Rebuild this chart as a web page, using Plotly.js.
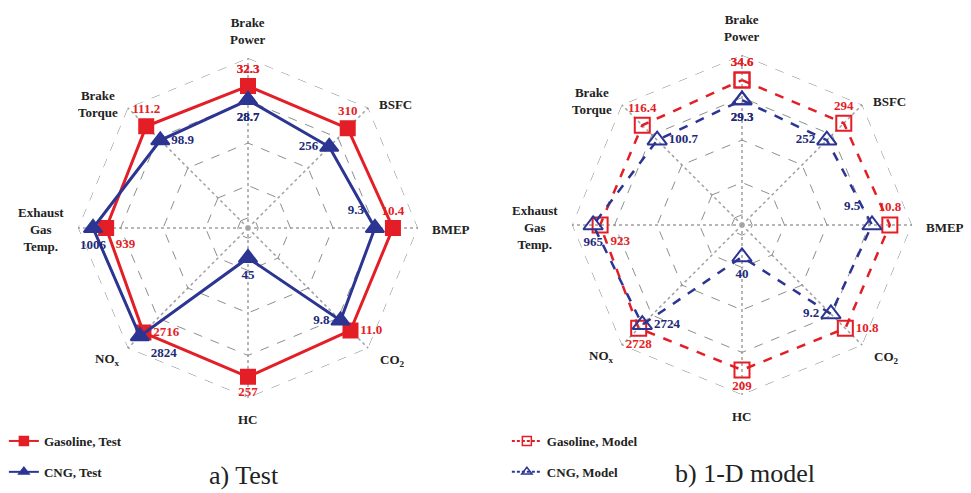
<!DOCTYPE html>
<html><head><meta charset="utf-8">
<script src="https://cdn.plot.ly/plotly-3.0.1.min.js"></script>
<style>body{margin:0;background:#fff}#c{width:971px;height:493px}</style>
</head><body><div id="c"></div>
<script>
// ---- data ----
const categories = ['Brake Power','BSFC','BMEP','CO2','HC','NOx','Exhaust Gas Temp.','Brake Torque'];
const categoryLabels = ['Brake<br>Power','BSFC','BMEP','CO<sub>2</sub>','HC','NO<sub>x</sub>','Exhaust<br>Gas<br>Temp.','Brake<br>Torque'];
const gasTestR   = [0.835,0.83,0.853,0.853,0.876,0.87,0.835,0.847];
const gasTestLbl = ['32.3','310','10.4','11.0','257','2716','939','111.2'];
const cngTestR   = [0.753,0.676,0.747,0.77,0.176,0.90,0.912,0.73];
const cngTestLbl = ['28.7','256','9.3','9.8','45','2824','1006','98.9'];
const gasModR    = [0.853,0.847,0.87,0.86,0.853,0.86,0.835,0.83];
const gasModLbl  = ['34.6','294','10.8','10.8','209','2728','923','116.4'];
const cngModR    = [0.735,0.706,0.765,0.74,0.188,0.83,0.876,0.706];
const cngModLbl  = ['29.3','252','9.5','9.2','40','2724','965','100.7'];
const seriesNames = ['Gasoline, Test','CNG, Test','Gasoline, Model','CNG, Model'];
const panelTitles = ['a) Test','b) 1-D model'];
const gridVals = [0.06,0.25,0.5,0.75];
const frameR = [1,1,1,1,1,1,1,1];   // outer grid octagon (axis maximum)

// ---- styles ----
const RED='#e41e26', BLUE='#2c3592', NAVY='#1e2a78', GRID='#8a9090';
const SERIF='Liberation Serif, Times New Roman, serif';
const posGasTest=['top center','top center','top center','middle right','bottom center','middle right','bottom right','top center'];
const posCngTest=['bottom center','middle left','top left','middle left','bottom center','bottom right','bottom center','middle right'];
const posGasMod =['top center','top center','top center','middle right','bottom center','bottom center','bottom right','top center'];
const posCngMod =['bottom center','middle left','top left','middle left','bottom center','middle right','bottom center','middle right'];
// label offsets from each panel's centre (px)
const lblOff=[[0,-197],[147,-124],[203,2],[144,132],[0,191],[-141,131],[-207,2],[-150,-124]];
const centres=[[248,228],[742,225]];
const R=170;

const close = a => a.concat([a[0]]);
function tr(r,lbl,name,sub,color,tcolor,sym,dash,pos,msize){
  return {type:'scatterpolar', subplot:sub, name:name, showlegend:false,
    r:close(r), theta:close(categories), text:close(lbl), mode:'lines+markers+text',
    textposition:close(pos), textfont:{family:SERIF,size:13,color:tcolor,weight:'bold'},
    line:{color:color,width:dash==='solid'?3:2.5,dash:dash},
    marker:{symbol:sym,size:msize,color:color,line:{color:color,width:2}},
    cliponaxis:false, hoverinfo:'skip'};
}
function frame(sub){
  return {type:'scatterpolar',subplot:sub,showlegend:false,r:close(frameR),theta:close(categories),
    mode:'lines',line:{color:GRID,width:1,dash:'dash'},hoverinfo:'skip'};
}
function legTr(name,sub,leg,color,sym,dash){
  return {type:'scatterpolar',subplot:sub,legend:leg,name:name,legendgroup:name,r:[null],theta:[categories[0]],
    mode:'lines+markers',line:{color:color,width:2,dash:dash==='solid'?'solid':'3px,2px'},
    marker:{symbol:sym,size:9,color:color,line:{color:color,width:1.5}},hoverinfo:'skip'};
}
const data=[
  frame('polar'), frame('polar2'),
  tr(gasTestR,gasTestLbl,seriesNames[0],'polar',RED,RED,'square','solid',posGasTest,14),
  tr(cngTestR,cngTestLbl,seriesNames[1],'polar',BLUE,NAVY,'triangle-up','solid',posCngTest,16),
  tr(gasModR,gasModLbl,seriesNames[2],'polar2',RED,RED,'square-open','dash',posGasMod,15),
  tr(cngModR,cngModLbl,seriesNames[3],'polar2',BLUE,NAVY,'triangle-up-open','dash',posCngMod,17),
  legTr(seriesNames[0],'polar','legend',RED,'square','solid'),
  legTr(seriesNames[1],'polar','legend',BLUE,'triangle-up','solid'),
  legTr(seriesNames[2],'polar2','legend2',RED,'square-open','dash'),
  legTr(seriesNames[3],'polar2','legend2',BLUE,'triangle-up-open','dash')
];
function polar(c){
  const dx=[(c[0]-R)/971,(c[0]+R)/971], dy=[(493-c[1]-R)/493,(493-c[1]+R)/493];
  return {domain:{x:dx,y:dy}, gridshape:'linear', bgcolor:'rgba(0,0,0,0)',
    radialaxis:{range:[0,1.0005],tickvals:gridVals,showticklabels:false,ticks:'',showline:false,
      gridcolor:GRID,griddash:'dash',gridwidth:1},
    angularaxis:{rotation:90,direction:'clockwise',showline:false,ticks:'',showticklabels:false,
      gridcolor:'#a0a0a0',griddash:'dot',gridwidth:1.5}};
}
const legStyle = (x)=>({x:x,y:1-426/493,xanchor:'left',yanchor:'top',bgcolor:'rgba(0,0,0,0)',
  font:{family:SERIF,size:13,color:'#222',weight:'bold'},tracegroupgap:11,itemwidth:30});
const ann=[];
centres.forEach(c=>{
  categoryLabels.forEach((t,i)=>{
    ann.push({text:'<b>'+t+'</b>',x:(c[0]+lblOff[i][0])/971,y:1-(c[1]+lblOff[i][1])/493,xref:'paper',yref:'paper',
      showarrow:false,xanchor:'center',yanchor:'middle',align:'center',font:{family:SERIF,size:13,color:'#222'}});
  });
});
ann.push({text:panelTitles[0],x:244/971,y:1-475/493,xref:'paper',yref:'paper',xanchor:'center',yanchor:'middle',showarrow:false,font:{family:SERIF,size:26,color:'#222'}});
ann.push({text:panelTitles[1],x:745/971,y:1-473/493,xref:'paper',yref:'paper',xanchor:'center',yanchor:'middle',showarrow:false,font:{family:SERIF,size:26,color:'#222'}});
const layout={width:971,height:493,margin:{l:0,r:0,t:0,b:0},paper_bgcolor:'#fff',showlegend:true,
  polar:polar(centres[0]), polar2:polar(centres[1]),
  legend:legStyle(0.004), legend2:legStyle(0.522), annotations:ann};
Plotly.newPlot('c',data,layout,{displayModeBar:false,staticPlot:true});
</script></body></html>
